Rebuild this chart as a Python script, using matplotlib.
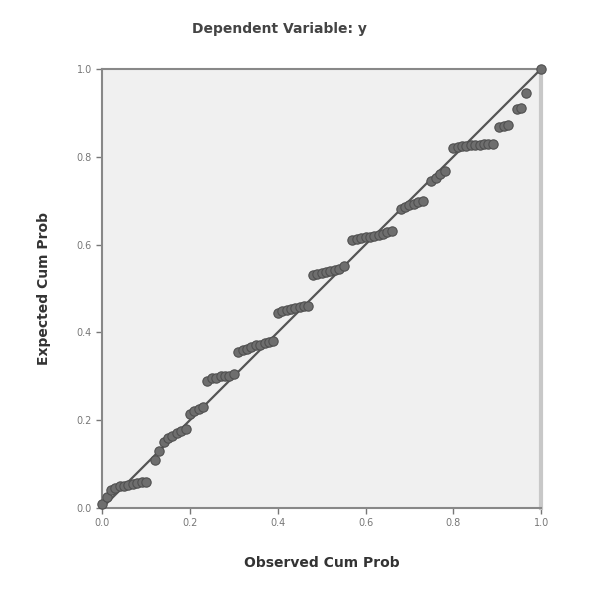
import matplotlib.pyplot as plt

# P-P plot punkty
observed = [0.00, 0.01, 0.02, 0.03, 0.04, 0.05, 0.06, 0.07, 0.08, 0.09, 0.10,
            0.12, 0.13, 0.14,
            0.15, 0.16, 0.17, 0.18, 0.19,
            0.20, 0.21, 0.22, 0.23,
            0.24, 0.25, 0.26, 0.27, 0.28, 0.29, 0.30,
            0.31, 0.32, 0.33, 0.34, 0.35, 0.36, 0.37, 0.38, 0.39,
            0.40, 0.41, 0.42, 0.43, 0.44, 0.45, 0.46, 0.47,
            0.48, 0.49, 0.50, 0.51, 0.52, 0.53, 0.54, 0.55,
            0.57, 0.58, 0.59, 0.60, 0.61, 0.62, 0.63, 0.64, 0.65, 0.66,
            0.68, 0.69, 0.70, 0.71, 0.72, 0.73,
            0.75, 0.76, 0.77, 0.78,
            0.80, 0.81, 0.82, 0.83, 0.84, 0.85, 0.86, 0.87, 0.88, 0.89,
            0.905, 0.915, 0.925,
            0.945, 0.955,
            0.965, 1.00]
expected = [0.01, 0.025, 0.04, 0.045, 0.05, 0.05, 0.052, 0.054, 0.056, 0.058, 0.06,
            0.11, 0.13, 0.15,
            0.16, 0.165, 0.17, 0.175, 0.18,
            0.215, 0.22, 0.225, 0.23,
            0.29, 0.295, 0.297, 0.30, 0.30, 0.30, 0.305,
            0.355, 0.36, 0.363, 0.366, 0.37, 0.372, 0.375, 0.378, 0.38,
            0.445, 0.448, 0.45, 0.452, 0.455, 0.457, 0.46, 0.46,
            0.53, 0.532, 0.535, 0.538, 0.54, 0.542, 0.545, 0.55,
            0.61, 0.612, 0.614, 0.616, 0.618, 0.62, 0.622, 0.625, 0.628, 0.63,
            0.68, 0.685, 0.69, 0.693, 0.696, 0.70,
            0.745, 0.752, 0.76, 0.768,
            0.82, 0.822, 0.824, 0.825, 0.826, 0.826, 0.827, 0.828, 0.828, 0.83,
            0.868, 0.87, 0.872,
            0.908, 0.912,
            0.945, 1.00]
ticks = [0.0, 0.2, 0.4, 0.6, 0.8, 1.0]
tick_labels = ["0.0", "0.2", "0.4", "0.6", "0.8", "1.0"]

fig = plt.figure(figsize=(6.08, 5.99), dpi=100)
ax = fig.add_axes([0.168, 0.152, 0.722, 0.733])
ax.set_facecolor("#f0f0f0")

ax.plot([0, 1], [0, 1], color="#555555", lw=1.6, zorder=2)
ax.scatter(observed, expected, s=45, facecolor="#6e6e6e", edgecolor="#505050",
           linewidths=0.8, zorder=3, clip_on=False)

ax.set_xlim(0, 1)
ax.set_ylim(0, 1)
ax.set_xticks(ticks)
ax.set_xticklabels(tick_labels)
ax.set_yticks(ticks)
ax.set_yticklabels(tick_labels)
ax.tick_params(labelsize=7, colors="#777777", length=4, width=1)
for s in ax.spines.values():
    s.set_color("#888888")
    s.set_linewidth(1.5)
ax.spines["right"].set_color("#c8c8c8")
ax.spines["right"].set_linewidth(3)

fig.text(0.46, 0.952, "Dependent Variable: y", ha="center", va="center",
         fontsize=10, fontweight="bold", color="#444444")
ax.set_xlabel("Observed Cum Prob", fontsize=10, fontweight="bold", color="#333333", labelpad=20)
ax.set_ylabel("Expected Cum Prob", fontsize=10, fontweight="bold", color="#333333", labelpad=18)

plt.savefig("out.png", dpi=100)
